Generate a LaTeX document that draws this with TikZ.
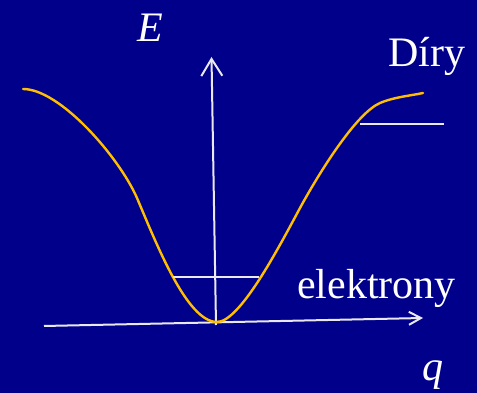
\documentclass[tikz,border=0pt]{standalone}
\usepackage{fontspec}
\setmainfont{Liberation Serif}
\usetikzlibrary{arrows.meta}
\definecolor{slidebg}{RGB}{0,0,139}
\definecolor{bandgold}{RGB}{255,190,0}
\definecolor{axiswhite}{RGB}{232,232,238}

\begin{document}
\begin{tikzpicture}[x=1pt,y=1pt,
  every node/.style={font=\fontsize{42}{42}\selectfont,text=white,inner sep=0pt},
  axis/.style={axiswhite,line width=2pt},
  level/.style={axiswhite,line width=2pt},
  band/.style={bandgold,line width=2.4pt,line cap=round},
  bigtip/.style={-{Straight Barb[length=17pt,width=21pt,line width=2pt]}},
  smalltip/.style={-{Straight Barb[length=12pt,width=13pt,line width=2pt]}}]
  % slide background, fixes the page size
  \fill[slidebg] (0,0) rectangle (477,393);
  \useasboundingbox (0,0) rectangle (477,393);

  % axes (slightly tilted, as on the slide)
  \coordinate (qfrom) at (44,67);
  \coordinate (qto)   at (423,75);
  \coordinate (Efrom) at (216,68);
  \coordinate (Eto)   at (211.5,336);
  \draw[axis,smalltip] (qfrom) -- (qto);
  \draw[axis,bigtip] (Efrom) -- (Eto);

  % dispersion curve E(q)
  \draw[band] (23,304) .. controls (60,304) and (119,236) .. (137,195)
    .. controls (156.5,149) and (187,71) .. (217,71)
    .. controls (240,71) and (279,146) .. (300,185)
    .. controls (321.6,224.6) and (357,280) .. (380,290)
    .. controls (394,296) and (413,297.7) .. (423,300);

  % levels for electrons and holes
  \coordinate (elleft)  at (173,116);
  \coordinate (elright) at (259,116);
  \coordinate (hoLeft)  at (360,269);
  \coordinate (hoRight) at (444,269);
  \draw[level] (elleft) -- (elright);
  \draw[level] (hoLeft) -- (hoRight);

  % labels
  \node[anchor=base] (Elab) at (150,351) {\itshape E};
  \node[anchor=base west] (qlab) at (422,12) {\itshape q};
  \node[anchor=base west] (diry) at (388,326) {Díry};
  \node[anchor=base west] (elek) at (297,94) {elektrony};
\end{tikzpicture}
\end{document}
